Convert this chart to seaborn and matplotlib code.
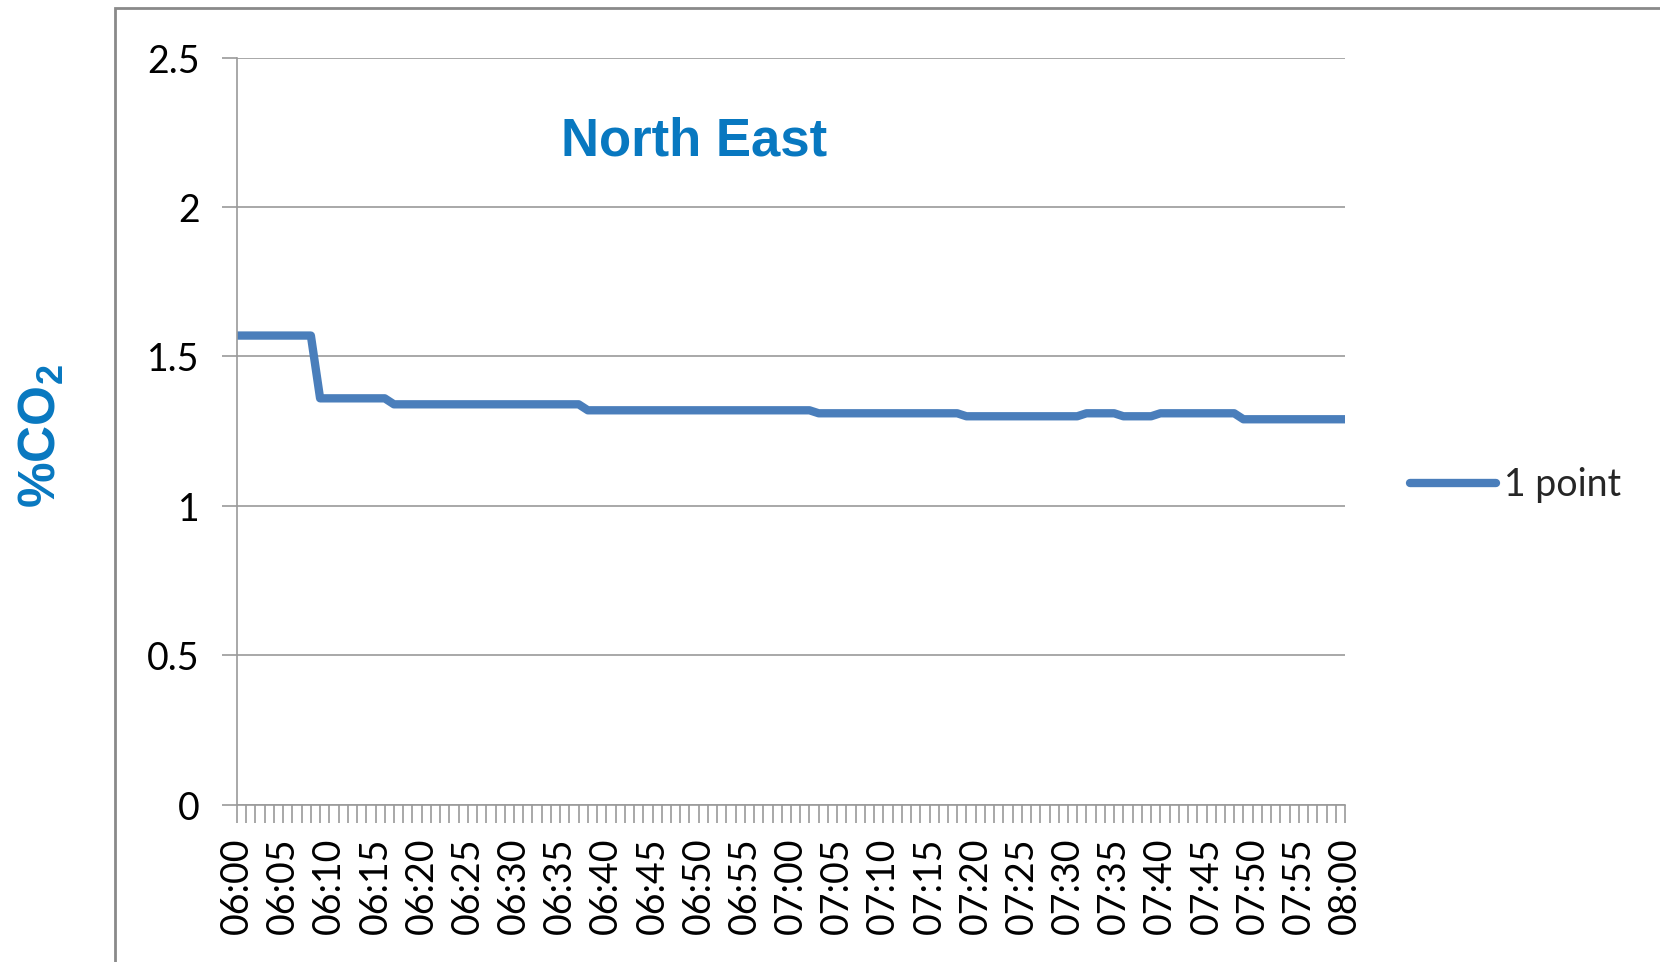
import numpy as np
import pandas as pd
import matplotlib
matplotlib.use("Agg")
import matplotlib.pyplot as plt
import seaborn as sns
from matplotlib.patches import Rectangle
from matplotlib.ticker import MultipleLocator

# one reading per minute, 06:00 .. 08:00
minutes = list(range(121))
co2 = [
    1.57, 1.57, 1.57, 1.57, 1.57, 1.57, 1.57, 1.57, 1.57,
    1.36, 1.36, 1.36, 1.36, 1.36, 1.36, 1.36, 1.36,
    1.34, 1.34, 1.34, 1.34, 1.34, 1.34, 1.34, 1.34, 1.34, 1.34,
    1.34, 1.34, 1.34, 1.34, 1.34, 1.34, 1.34, 1.34, 1.34, 1.34, 1.34,
    1.32, 1.32, 1.32, 1.32, 1.32, 1.32, 1.32, 1.32, 1.32, 1.32,
    1.32, 1.32, 1.32, 1.32, 1.32, 1.32, 1.32, 1.32, 1.32, 1.32,
    1.32, 1.32, 1.32, 1.32, 1.32,
    1.31, 1.31, 1.31, 1.31, 1.31, 1.31, 1.31, 1.31,
    1.31, 1.31, 1.31, 1.31, 1.31, 1.31, 1.31, 1.31,
    1.30, 1.30, 1.30, 1.30, 1.30, 1.30, 1.30, 1.30, 1.30, 1.30, 1.30, 1.30, 1.30,
    1.31, 1.31, 1.31, 1.31,
    1.30, 1.30, 1.30, 1.30,
    1.31, 1.31, 1.31, 1.31, 1.31, 1.31, 1.31, 1.31, 1.31,
    1.29, 1.29, 1.29, 1.29, 1.29, 1.29, 1.29, 1.29, 1.29, 1.29, 1.29, 1.29,
]
tick_labels = ["06:00", "06:05", "06:10", "06:15", "06:20", "06:25", "06:30",
               "06:35", "06:40", "06:45", "06:50", "06:55", "07:00", "07:05",
               "07:10", "07:15", "07:20", "07:25", "07:30", "07:35", "07:40",
               "07:45", "07:50", "07:55", "08:00"]
series_name = "1 point"
title = "North East"

df = pd.DataFrame({"minute": minutes, "co2": co2, "series": series_name})

sns.set_style("white")
plt.rcParams["font.family"] = ["Lato", "DejaVu Sans"]
plt.rcParams["mathtext.fontset"] = "custom"
plt.rcParams["mathtext.bf"] = "Liberation Sans:bold"
plt.rcParams["mathtext.rm"] = "Liberation Sans:bold"

W, H = 1660, 962
fig = plt.figure(figsize=(16.6, 9.625), dpi=100)
ax = fig.add_axes([237 / W, 1 - 805 / H, (1345 - 237) / W, (805 - 58) / H])

blue = "#4a7ebb"
grey = "#9a9a9a"

sns.lineplot(data=df, x="minute", y="co2", hue="series", palette=[blue],
             linewidth=6, ax=ax, legend=False, solid_joinstyle="round",
             solid_capstyle="round")

ax.set_xlim(0, 120)
ax.set_ylim(0, 2.5)
ax.set_yticks([0, 0.5, 1, 1.5, 2, 2.5])
ax.set_yticklabels(["0", "0.5", "1", "1.5", "2", "2.5"])
ax.set_xticks(list(range(0, 121, 5)))
ax.set_xticklabels(tick_labels, rotation=90)
ax.xaxis.set_minor_locator(MultipleLocator(1))
ax.set_xlabel("")
ax.set_ylabel("")

ax.grid(axis="y", color=grey, linewidth=1.2)
ax.grid(axis="x", visible=False)
for s in ["top", "right"]:
    ax.spines[s].set_visible(False)
for s in ["left", "bottom"]:
    ax.spines[s].set_color(grey)
    ax.spines[s].set_linewidth(1.2)

ax.tick_params(axis="y", length=11, width=1.2, color=grey, pad=16,
               labelsize=27, labelcolor="black", left=True)
ax.tick_params(axis="x", which="both", length=13, width=1.2, color=grey,
               direction="out", bottom=True)
ax.tick_params(axis="x", which="major", pad=10, labelsize=27, labelcolor="black")

# title and axis label
fig.text(694 / W, 1 - 141 / H, title, ha="center", va="center",
         fontsize=38, fontweight="bold", color="#0878c0",
         family="Liberation Sans")
fig.text(42 / W, 1 - 436 / H, r"%CO$_{2}$", ha="center", va="center",
         rotation=90, fontsize=37, fontweight="bold", color="#0878c0",
         family="Liberation Sans")

# legend
handle = plt.Line2D([], [], color=blue, linewidth=6, solid_capstyle="round")
fig.legend([handle], [series_name], loc="center left",
           bbox_to_anchor=(1410 / W, 1 - 485 / H), frameon=False,
           fontsize=27, handlelength=2.3, handletextpad=0.2,
           borderpad=0, borderaxespad=0)

# outer chart frame
fig.patches.append(Rectangle((115 / W, -0.1), 1.2, 1.1 - 8 / H,
                             transform=fig.transFigure, fill=False,
                             edgecolor="#8a8a8a", linewidth=2))

fig.savefig("out.png", dpi=100)
